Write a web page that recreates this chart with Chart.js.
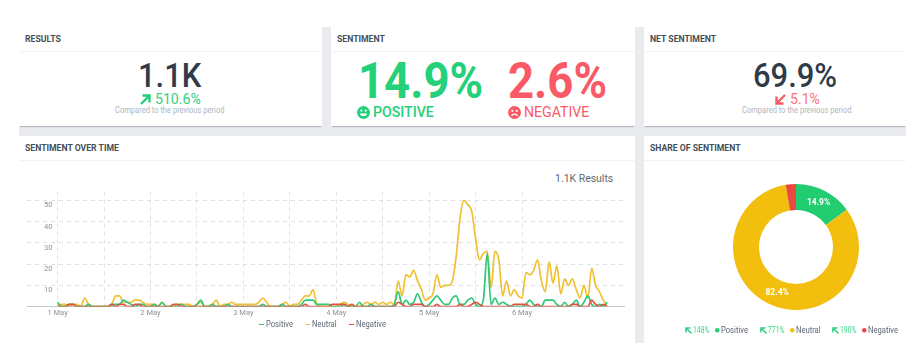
<!DOCTYPE html>
<html>
<head>
<meta charset="utf-8">
<title>Sentiment dashboard</title>
<script src="https://cdn.jsdelivr.net/npm/chart.js@4"></script>
<style>
  html, body { margin: 0; padding: 0; background: #fff; overflow: hidden; }
  body { width: 921px; height: 363px; position: relative; font-family: Roboto, sans-serif; }
  .gutter { position: absolute; left: 19px; top: 27px; width: 887px; height: 316px; background: #e9ebef; }
  .card { position: absolute; background: #fff; box-shadow: 0 2px 1px -1px rgba(60,70,85,.3); }
  .card.low { box-shadow: none; }
  .card h3 { margin: 0; position: absolute; left: 6px; top: 0; height: 24px; line-height: 23px; white-space: nowrap;
    font-size: 9.5px; font-weight: 700; color: #444e58; transform: scaleX(.91); transform-origin: left; }
  .card .rule { position: absolute; left: 0; right: 0; height: 1px; top: 24px; background: #f1f2f4; }
  .t { position: absolute; white-space: nowrap; line-height: 1; transform: scaleX(.91); transform-origin: left; }
  .mark { position: absolute; width: 4.5px; height: 1.6px; top: 323.6px; }
  svg.i { position: absolute; overflow: visible; }
  canvas { position: absolute; }
</style>
</head>
<body>
<div class="gutter"></div>
<div class="card" style="left:19px;top:27px;width:303px;height:99px"><h3>RESULTS</h3><div class="rule"></div></div>
<div class="card" style="left:331px;top:27px;width:304px;height:99px"><h3>SENTIMENT</h3><div class="rule"></div></div>
<div class="card" style="left:644px;top:27px;width:262px;height:99px"><h3>NET SENTIMENT</h3><div class="rule"></div></div>
<div class="card low" style="left:19px;top:136px;width:616px;height:207px"><h3>SENTIMENT OVER TIME</h3><div class="rule"></div></div>
<div class="card low" style="left:644px;top:136px;width:262px;height:207px"><h3>SHARE OF SENTIMENT</h3><div class="rule"></div></div>

<div class="t" style="left:138px;top:58px;font-size:34px;font-weight:500;color:#2f3b48">1.1K</div>
<svg class="i" style="left:140px;top:94px" width="11" height="11"><path d="M1 10L9.5 1.5M2.5 1.5H9.5V8.5" fill="none" stroke="#25cf78" stroke-width="2.4"/></svg>
<div class="t" style="left:155px;top:92px;font-size:15.5px;color:#35d083">510.6%</div>
<div class="t" style="left:115px;top:106px;font-size:8.3px;color:#aeb6c0">Compared to the previous period</div>

<div class="t" style="left:358px;top:56px;font-size:50px;font-weight:700;color:#25d07a">14.9%</div>
<svg class="i" style="left:357px;top:106px" width="13" height="13"><circle cx="6.5" cy="6.5" r="6.5" fill="#25d07a"/><circle cx="4.3" cy="4.6" r="1.1" fill="#fff"/><circle cx="8.7" cy="4.6" r="1.1" fill="#fff"/><path d="M3 7.4H10C10 11 3 11 3 7.4Z" fill="#fff"/></svg>
<div class="t" style="left:373px;top:105px;font-size:15.5px;font-weight:500;color:#25d07a">POSITIVE</div>

<div class="t" style="left:508px;top:56px;font-size:50px;font-weight:700;color:#fa5a66">2.6%</div>
<svg class="i" style="left:508px;top:106px" width="13" height="13"><circle cx="6.5" cy="6.5" r="6.5" fill="#fa5a66"/><circle cx="4.3" cy="4.8" r="1.1" fill="#fff"/><circle cx="8.7" cy="4.8" r="1.1" fill="#fff"/><path d="M3.6 10C4.6 7.6 8.4 7.6 9.4 10" fill="none" stroke="#fff" stroke-width="1.3"/></svg>
<div class="t" style="left:524px;top:105px;font-size:15.5px;color:#fa5a66">NEGATIVE</div>

<div class="t" style="left:753px;top:58px;font-size:34px;font-weight:500;color:#2f3b48">69.9%</div>
<svg class="i" style="left:775px;top:94px" width="11" height="11"><path d="M10 1L1.5 9.5M1.5 2.5V9.5H8.5" fill="none" stroke="#fa5a66" stroke-width="2.4"/></svg>
<div class="t" style="left:790px;top:92px;font-size:15.5px;color:#f9727c">5.1%</div>
<div class="t" style="left:742px;top:106px;font-size:8.3px;color:#aeb6c0">Compared to the previous period</div>

<div class="t" style="left:555px;top:173px;font-size:11.5px;color:#60686f">1.1K Results</div>

<canvas id="lineChart" style="left:19px;top:170px;width:606px;height:158px"></canvas>
<canvas id="shareChart" style="left:696px;top:184px;width:200px;height:126px"></canvas>
<div id="lineLegend"></div>
<div id="shareLegend"></div>

<script>
  // hours since 1 May 00:00, one value per hour
  const positive = [
    2,0,0,1,1,0,0,0,1,0,
    0,0,0,0,1,1,1,3,2,1,
    0,1,1,0,0,1,0,2,0,0,
    0,0,1,0,0,0,1,3,0,0,
    1,0,0,0,1,0,0,0,0,0,
    0,0,0,1,0,0,0,0,1,0,
    0,0,0,1,3,3,3,1,1,1,
    1,0,0,0,1,0,0,0,2,0,
    0,1,0,0,0,0,0,1,7,1,
    3,1,2,6,2,0,1,3,5,3,
    1,1,4,5,1,1,3,4,1,0,
    3,25,1,4,1,2,1,0,0,0,
    0,1,3,1,0,0,3,3,3,1,
    0,2,0,1,3,0,2,5,1,0,
    1,0,2
  ];
  const neutral = [
    0,1,1,0,1,1,0,4,1,0,
    0,0,0,0,1,5,5,2,2,2,
    3,3,2,1,1,1,0,2,0,0,
    0,1,1,1,1,0,1,2,0,0,
    1,3,0,1,1,2,1,1,1,1,
    1,1,2,4,2,0,0,0,1,2,
    0,1,1,3,5,5,8,1,0,0,
    0,0,0,1,2,1,0,0,0,1,
    2,1,2,1,2,1,2,1,12,5,
    15,14,17,12,8,3,4,6,15,9,
    10,10,12,24,42,50,48,45,32,22,
    25,26,9,26,22,5,12,5,8,5,
    4,16,15,17,22,12,7,21,11,19,
    6,13,10,13,8,4,10,4,18,10,
    7,3,1
  ];
  const negative = [
    0,0,0,1,1,0,0,0,0,0,
    0,0,0,0,1,0,1,1,0,0,
    1,1,0,0,0,0,0,0,0,0,
    1,1,0,0,0,0,0,0,0,0,
    0,0,0,0,0,0,0,0,0,0,
    0,0,0,0,0,0,0,0,0,0,
    0,0,0,0,1,0,0,0,0,0,
    0,1,1,1,1,0,1,0,0,0,
    0,0,0,0,0,0,0,0,2,1,
    0,0,1,1,1,0,0,0,1,0,
    0,0,0,0,1,0,0,1,2,1,
    0,0,0,0,0,0,0,0,1,1,
    1,1,0,0,1,0,0,0,0,0,
    0,0,0,1,1,0,0,0,3,1,
    0,1,0
  ];

  const gridHours = [0, 12, 24, 36, 48, 60, 72, 84, 96, 108, 120];
  const dayHours = [0, 24, 48, 72, 96, 120];
  const dayLabels = ['1 May', '2 May', '3 May', '4 May', '5 May', '6 May'];
  const yTicks = [10, 20, 30, 40, 50];

  const shareNames = ['Positive', 'Neutral', 'Negative'];
  const shareValues = [14.9, 82.4, 2.6];
  const shareChanges = ['148%', '771%', '190%'];

  const GREEN = '#22cc70', YELLOW = '#f2bf0f', RED = '#e9493f';
  const LINE_COLORS = ['#2dc878', '#f0c030', '#e2533f'];

  function points(values) {
    return values.map((v, i) => ({ x: i, y: v }));
  }

  function lineSet(label, values, color, order) {
    return {
      label, order,
      data: points(values),
      borderColor: color,
      backgroundColor: color,
      borderWidth: 1.7,
      pointRadius: 0,
      cubicInterpolationMode: 'monotone'
    };
  }

  new Chart(document.getElementById('lineChart'), {
    type: 'line',
    data: {
      datasets: [
        lineSet('Positive', positive, LINE_COLORS[0], 1),
        lineSet('Neutral', neutral, LINE_COLORS[1], 2),
        lineSet('Negative', negative, LINE_COLORS[2], 0)
      ]
    },
    options: {
      responsive: false,
      animation: false,
      layout: { padding: { left: 8, top: 20, right: 0, bottom: 0 } },
      plugins: { tooltip: { enabled: false }, legend: { display: false } },
      scales: {
        x: {
          type: 'linear',
          min: -7.9,
          max: 146.6,
          afterBuildTicks: scale => { scale.ticks = gridHours.map(value => ({ value })); },
          afterFit: scale => { scale.height = 14; },
          grid: { color: '#dfe0e4', drawTicks: false },
          border: { display: true, color: '#c4c8d0', width: 1, dash: [4, 4] },
          ticks: {
            autoSkip: false,
            maxRotation: 0,
            padding: 2,
            color: '#8d929a',
            font: { family: 'Roboto', size: 7.5 },
            callback: value => {
              const i = dayHours.indexOf(value);
              return i < 0 ? '' : dayLabels[i];
            }
          }
        },
        y: {
          min: 0,
          max: 54.2,
          afterBuildTicks: scale => { scale.ticks = yTicks.map(value => ({ value })); },
          afterFit: scale => { scale.width = 0; },
          grid: { color: '#dfe0e4', drawTicks: false },
          border: { display: false, dash: [4, 4] },
          ticks: {
            mirror: true,
            padding: 17,
            labelOffset: 5,
            color: '#8d929a',
            font: { family: 'Roboto', size: 7.5 }
          }
        }
      }
    }
  });

  // percentages printed on the two big slices
  const sliceLabels = {
    id: 'sliceLabels',
    afterDatasetsDraw(chart) {
      const { ctx } = chart;
      ctx.save();
      ctx.fillStyle = '#fff';
      ctx.font = '700 8.5px Roboto';
      ctx.textAlign = 'center';
      ctx.textBaseline = 'middle';
      chart.getDatasetMeta(0).data.forEach((arc, i) => {
        if (shareValues[i] < 5) return;
        const p = arc.getCenterPoint();
        ctx.fillText(shareValues[i].toFixed(1) + '%', p.x, p.y);
      });
      ctx.restore();
    }
  };

  new Chart(document.getElementById('shareChart'), {
    type: 'doughnut',
    data: {
      labels: shareNames,
      datasets: [{
        data: shareValues,
        backgroundColor: [GREEN, YELLOW, RED],
        borderWidth: 0,
        hoverOffset: 0
      }]
    },
    options: {
      responsive: false,
      animation: false,
      cutout: '58.7%',
      plugins: { legend: { display: false }, tooltip: { enabled: false } }
    },
    plugins: [sliceLabels]
  });

  // legend row under the line chart
  const lineLegendX = [259.3, 305.3, 349.3];
  document.getElementById('lineLegend').innerHTML = shareNames.map((name, i) =>
    `<div class="mark" style="left:${lineLegendX[i]}px;background:${LINE_COLORS[i]}"></div>` +
    `<div class="t" style="left:${lineLegendX[i] + 6.4}px;top:320px;font-size:8.4px;color:#5d6676">${name}</div>`
  ).join('');

  // legend row under the doughnut
  const legendX = [685, 760, 832];
  const legendColors = [GREEN, YELLOW, RED];
  let legendHtml = '';
  shareNames.forEach((name, i) => {
    const x = legendX[i];
    legendHtml +=
      `<svg class="i" style="left:${x}px;top:327px" width="7" height="7"><path d="M6.5 6.5L1 1M1 5.5V1H5.5" fill="none" stroke="#2ed283" stroke-width="1.6"/></svg>` +
      `<div class="t" style="left:${x + 8}px;top:326px;font-size:8.5px;color:#3ad48a;transform:scaleX(.8)">${shareChanges[i]}</div>` +
      `<svg class="i" style="left:${x + 29.5}px;top:328px" width="4.5" height="4.5"><circle cx="2.25" cy="2.25" r="2.25" fill="${legendColors[i]}"/></svg>` +
      `<div class="t" style="left:${x + 35.7}px;top:326px;font-size:8.4px;color:#5d6676">${name}</div>`;
  });
  document.getElementById('shareLegend').innerHTML = legendHtml;
</script>
</body>
</html>
